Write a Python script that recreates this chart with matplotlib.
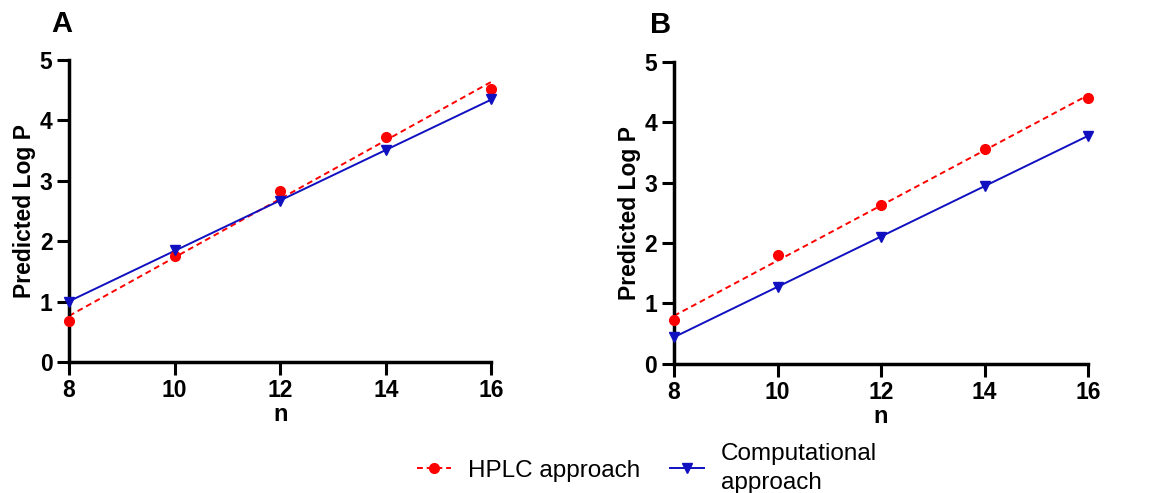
import numpy as np
import matplotlib as mpl
mpl.use('Agg')
import matplotlib.pyplot as plt

mpl.rc('font', family=['Liberation Sans', 'DejaVu Sans'])

n = [8, 10, 12, 14, 16]
# panel A
hplc_a = [0.67, 1.75, 2.83, 3.73, 4.53]
comp_a = [1.00, 1.85, 2.67, 3.51, 4.35]
# panel B
hplc_b = [0.72, 1.80, 2.63, 3.56, 4.41]
comp_b = [0.45, 1.27, 2.10, 2.95, 3.78]

red = '#ff0000'
blue = '#1010c0'

fig = plt.figure(figsize=(11.51, 4.93), dpi=100)
ax1 = fig.add_axes([0.060, 0.266, 0.367, 0.612])
ax2 = fig.add_axes([0.5856, 0.262, 0.3597, 0.612])


def panel(ax, hplc, comp, letter, dx):
    x = np.array(n, dtype=float)
    xf = np.array([8, 16], dtype=float)
    p1 = np.polyfit(x, hplc, 1)
    p2 = np.polyfit(x, comp, 1)
    ax.plot(xf, np.polyval(p1, xf), '--', color=red, lw=1.4, dashes=(3, 2))
    ax.plot(xf, np.polyval(p2, xf), '-', color=blue, lw=1.4)
    ax.plot(x, hplc, 'o', color=red, ms=7, clip_on=False, zorder=5)
    ax.plot(x, comp, 'v', color=blue, ms=7, clip_on=False, zorder=5)
    ax.set_xlim(8, 16)
    ax.set_ylim(0, 5)
    ax.set_xticks(n)
    ax.set_yticks(range(6))
    for s in ['top', 'right']:
        ax.spines[s].set_visible(False)
    for s in ['left', 'bottom']:
        ax.spines[s].set_linewidth(2.5)
    ax.tick_params(width=2.2, length=9, labelsize=16.5, pad=3)
    for lab in ax.get_xticklabels() + ax.get_yticklabels():
        lab.set_fontweight('bold')
    ax.set_xlabel('n', fontsize=17, fontweight='bold', labelpad=1)
    ax.set_ylabel('Predicted Log P', fontsize=16.5, fontweight='bold', labelpad=2.5)
    ax.text(dx, 1.075, letter, transform=ax.transAxes, fontsize=21,
            fontweight='bold', ha='left', va='bottom')


panel(ax1, hplc_a, comp_a, 'A', -0.043)
panel(ax2, hplc_b, comp_b, 'B', -0.058)

h1, = ax1.plot([], [], '--o', color=red, lw=1.4, dashes=(3, 2), ms=7)
h2, = ax1.plot([], [], '-v', color=blue, lw=1.4, ms=7)
leg = fig.legend([h1, h2], ['HPLC approach', 'Computational\napproach'], ncol=2,
                 loc='center', bbox_to_anchor=(0.562, 0.05), frameon=False,
                 fontsize=17.5, handlelength=1.4, columnspacing=1.2,
                 handletextpad=0.7)
for t in leg.get_texts():
    t.set_linespacing(1.45)

plt.savefig('out.png', dpi=100)
plt.close()
